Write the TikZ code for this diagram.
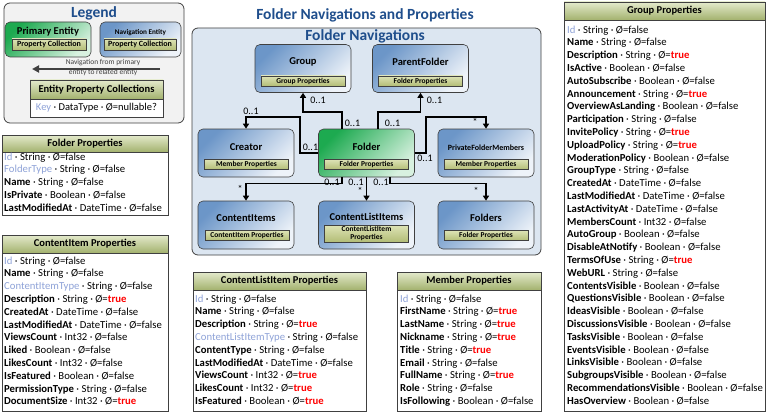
\documentclass[tikz,border=0pt]{standalone}
\usepackage{fontspec}
\setmainfont{Carlito}
\usepackage{xcolor}
\usetikzlibrary{arrows.meta}
\definecolor{titleblue}{HTML}{1F4E8C}
\definecolor{keyblue}{HTML}{8FA3D8}
\definecolor{nullred}{HTML}{FF0000}
\definecolor{navfill}{HTML}{DCE6F1}
\definecolor{legendfill}{HTML}{F2F2F2}
\definecolor{navtop}{HTML}{6C96C8}
\definecolor{navbottom}{HTML}{EEF3F9}
\definecolor{maintop}{HTML}{1DAA50}
\definecolor{mainbottom}{HTML}{D8F1E0}
\definecolor{colltop}{HTML}{DDE3B6}
\definecolor{collbottom}{HTML}{B3BD76}
\definecolor{headtop}{HTML}{E4EACC}
\definecolor{headbottom}{HTML}{A3B26E}
\definecolor{framegray}{HTML}{404040}

\newcommand{\propline}[3]{\textbf{#1} · #2 · Ø=#3}
\newcommand{\keyline}[3]{\textcolor{keyblue}{#1} · #2 · Ø=#3}
\newcommand{\yes}{\textcolor{nullred}{\textbf{true}}}

\begin{document}
\begin{tikzpicture}[x = 1pt, y = -1pt,
    entity/.style = {draw = framegray, line width = 0.6pt, rounded corners = 5pt, minimum width = 96pt, minimum height = 48pt, top color = navtop, bottom color = navbottom, shading angle = 45},
    mainentity/.style = {entity, top color = maintop, bottom color = mainbottom, shading angle = 45},
    entname/.style = {font = \bfseries\fontsize{10.5pt}{12pt}\selectfont, inner sep = 0pt},
    coll/.style = {draw = framegray, top color = colltop, bottom color = collbottom, line width = 0.6pt, minimum width = 84pt, minimum height = 10pt, inner sep = 0pt, font = \bfseries\fontsize{7.5pt}{8pt}\selectfont},
    tablehead/.style = {draw = framegray, line width = 0.8pt, top color = headtop, bottom color = headbottom, inner sep = 0pt, font = \bfseries\fontsize{10.5pt}{12pt}\selectfont},
    tablebody/.style = {draw = framegray, line width = 0.8pt, fill = white, inner sep = 0pt},
    rows/.style = {anchor = north west, align = left, inner sep = 0pt, font = \fontsize{10.7pt}{12.8pt}\selectfont},
    nav/.style = {-{Triangle[length = 5pt, width = 6pt]}, line width = 1.6pt},
    mult/.style = {inner sep = 0pt, font = \fontsize{10pt}{11pt}\selectfont},
    maintitle/.style = {font = \bfseries\fontsize{15.5pt}{17pt}\selectfont, text = titleblue, inner sep = 0pt}]

        \useasboundingbox (0, 0) rectangle (769, 412);

        % Legend
        \node [draw = framegray, line width = 0.8pt, fill = legendfill, rounded corners = 6pt, minimum width = 180pt, minimum height = 120pt] (legend) at (94, 63) {};
        \node [maintitle] (legendtitle) at (94, 13) {Legend};
        \node [mainentity, minimum width = 86pt, minimum height = 35pt] (primary) at (48, 39.5) {};
        \node [entname] (primaryname) at (48, 32) {Primary Entity};
        \node [coll, minimum width = 74pt, minimum height = 11pt, font = \bfseries\fontsize{8pt}{9pt}\selectfont] (primarycoll) at (49, 44.5) {Property Collection};
        \node [entity, minimum width = 81pt, minimum height = 35pt] (related) at (140.5, 39.5) {};
        \node [entname, font = \bfseries\fontsize{7.2pt}{8pt}\selectfont] (relatedname) at (140.5, 32.5) {Navigation Entity};
        \node [coll, minimum width = 72pt, minimum height = 11pt, font = \bfseries\fontsize{8pt}{9pt}\selectfont] (relatedcoll) at (140, 44.5) {Property Collection};
        \coordinate (navstart) at (160, 69);
        \coordinate (navend) at (32, 69);
        \draw [-{Triangle[length = 7pt, width = 7pt]}, line width = 1.8pt, draw = framegray] (navstart) -- (navend);
        \node [align = center, inner sep = 0pt, text = framegray, font = \fontsize{7.5pt}{10pt}\selectfont] (navnote) at (103, 68) {Navigation from primary\\entity to related entity};
        \node [tablebody, minimum width = 133pt, minimum height = 37pt] (keybody) at (96.5, 98.5) {};
        \node [tablehead, minimum width = 133pt, minimum height = 19pt] (keyhead) at (96.5, 89.5) {Entity Property Collections};
        \node [inner sep = 0pt, font = \fontsize{10.5pt}{12pt}\selectfont] (keytext) at (96.5, 108) {\textcolor{keyblue}{Key} · DataType · Ø=nullable?};

        % Navigations
        \node [maintitle] (maintitle) at (365, 15) {Folder Navigations and Properties};
        \node [draw = framegray, line width = 0.8pt, fill = navfill, rounded corners = 6pt, minimum width = 349pt, minimum height = 227pt] (panel) at (366.5, 141.5) {};
        \node [maintitle] (paneltitle) at (365, 36) {Folder Navigations};

        \node [entity] (group) at (303, 68.5) {};
        \node [entname] (groupname) at (303, 62) {Group};
        \node [coll] (groupcoll) at (303, 81) {Group Properties};

        \node [entity] (parent) at (420.5, 68.5) {};
        \node [entname] (parentname) at (420.5, 62) {ParentFolder};
        \node [coll] (parentcoll) at (420.5, 81) {Folder Properties};

        \node [entity] (creator) at (246, 153) {};
        \node [entname] (creatorname) at (246, 147) {Creator};
        \node [coll] (creatorcoll) at (246.5, 164.5) {Member Properties};

        \node [mainentity] (folder) at (366.5, 153) {};
        \node [entname] (foldername) at (366.5, 147) {Folder};
        \node [coll] (foldercoll) at (366.5, 164.5) {Folder Properties};

        \node [entity] (members) at (486, 153) {};
        \node [entname, font = \bfseries\fontsize{8pt}{9pt}\selectfont] (membersname) at (486, 148) {PrivateFolderMembers};
        \node [coll] (memberscoll) at (486, 164.5) {Member Properties};

        \node [entity] (citems) at (246, 225) {};
        \node [entname] (citemsname) at (246, 218) {ContentItems};
        \node [coll] (citemscoll) at (247, 235.5) {ContentItem Properties};

        \node [entity] (clitems) at (366.5, 225) {};
        \node [entname] (clitemsname) at (366.5, 217) {ContentListItems};
        \node [coll, minimum height = 17pt, align = center, font = \bfseries\fontsize{7.5pt}{7.5pt}\selectfont] (clitemscoll) at (366.5, 233.5) {ContentListItem\\Properties};

        \node [entity] (folders) at (486, 225) {};
        \node [entname] (foldersname) at (486, 218) {Folders};
        \node [coll] (folderscoll) at (486, 235.5) {Folder Properties};

        % Up and Sideways
        \draw [nav] ([xshift = -24.5pt]folder.north) -- ++(0, -17) -| (group.south);
        \draw [nav] ([xshift = 11.5pt]folder.north) -- ++(0, -17) -| (parent.south);
        \draw [nav] (folder.west) -- ++(-18, 0) -- ++(0, -36) -| (creator.north);
        \draw [nav] (folder.east) -- ++(11, 0) -- ++(0, -36) -| (members.north);

        % Down
        \draw [nav] ([xshift = -24.5pt]folder.south) -- ++(0, 6) -| (citems.north);
        \draw [nav] (folder.south) -- (clitems.north);
        \draw [nav] ([xshift = 23.5pt]folder.south) -- ++(0, 6) -| (folders.north);

        \node [mult] (m1) at (318, 100) {0..1};
        \node [mult] (m2) at (352.5, 123) {0..1};
        \node [mult] (m3) at (434.5, 100) {0..1};
        \node [mult] (m4) at (392.5, 123) {0..1};
        \node [mult] (m5) at (251, 111) {0..1};
        \node [mult] (m6) at (310.5, 147) {0..1};
        \node [mult] (m7) at (475, 122) {*};
        \node [mult] (m8) at (425, 158) {0..1};
        \node [mult] (m9) at (332, 182) {0..1};
        \node [mult] (m10) at (356, 182) {0..1};
        \node [mult] (m11) at (381, 182) {0..1};
        \node [mult] (m12) at (240, 189) {*};
        \node [mult] (m13) at (360, 191) {*};
        \node [mult] (m14) at (476, 191) {*};

        % Property Collections
        \node [tablebody, minimum width = 166pt, minimum height = 80pt] (folderprops) at (85, 175) {};
        \node [tablehead, minimum width = 166pt, minimum height = 17pt] (folderhead) at (85, 143.5) {Folder Properties};
        \node [rows] (folderrows) at (4, 152.5) {\keyline{Id}{String}{false}\\
            \keyline{FolderType}{String}{false}\\
            \propline{Name}{String}{false}\\
            \propline{IsPrivate}{Boolean}{false}\\
            \propline{LastModifiedAt}{DateTime}{false}};

        \node [tablebody, minimum width = 166pt, minimum height = 176pt] (citemprops) at (85, 323) {};
        \node [tablehead, minimum width = 166pt, minimum height = 18pt] (citemhead) at (85, 244) {ContentItem Properties};
        \node [rows] (citemrows) at (4, 256.5) {\keyline{Id}{String}{false}\\
            \propline{Name}{String}{false}\\
            \keyline{ContentItemType}{String}{false}\\
            \propline{Description}{String}{\yes}\\
            \propline{CreatedAt}{DateTime}{false}\\
            \propline{LastModifiedAt}{DateTime}{false}\\
            \propline{ViewsCount}{Int32}{false}\\
            \propline{Liked}{Boolean}{false}\\
            \propline{LikesCount}{Int32}{false}\\
            \propline{IsFeatured}{Boolean}{false}\\
            \propline{PermissionType}{String}{false}\\
            \propline{DocumentSize}{Int32}{\yes}};

        \node [tablebody, minimum width = 173pt, minimum height = 139pt] (clitemprops) at (279.5, 341.5) {};
        \node [tablehead, minimum width = 173pt, minimum height = 18pt] (clitemhead) at (279.5, 281) {ContentListItem Properties};
        \node [rows] (clitemrows) at (195, 294.5) {\keyline{Id}{String}{false}\\
            \propline{Name}{String}{false}\\
            \propline{Description}{String}{\yes}\\
            \keyline{ContentListItemType}{String}{false}\\
            \propline{ContentType}{String}{false}\\
            \propline{LastModifiedAt}{DateTime}{false}\\
            \propline{ViewsCount}{Int32}{\yes}\\
            \propline{LikesCount}{Int32}{\yes}\\
            \propline{IsFeatured}{Boolean}{\yes}};

        \node [tablebody, minimum width = 144pt, minimum height = 139pt] (memberprops) at (469, 341.5) {};
        \node [tablehead, minimum width = 144pt, minimum height = 18pt] (memberhead) at (469, 281) {Member Properties};
        \node [rows] (memberrows) at (400, 294.5) {\keyline{Id}{String}{false}\\
            \propline{FirstName}{String}{\yes}\\
            \propline{LastName}{String}{\yes}\\
            \propline{Nickname}{String}{\yes}\\
            \propline{Title}{String}{\yes}\\
            \propline{Email}{String}{false}\\
            \propline{FullName}{String}{\yes}\\
            \propline{Role}{String}{false}\\
            \propline{IsFollowing}{Boolean}{false}};

        \node [tablebody, minimum width = 201pt, minimum height = 409pt] (groupprops) at (664.5, 206.5) {};
        \node [tablehead, minimum width = 201pt, minimum height = 18pt] (grouphead) at (664.5, 11) {Group Properties};
        \node [rows] (grouprows) at (567, 25.5) {\keyline{Id}{String}{false}\\
            \propline{Name}{String}{false}\\
            \propline{Description}{String}{\yes}\\
            \propline{IsActive}{Boolean}{false}\\
            \propline{AutoSubscribe}{Boolean}{false}\\
            \propline{Announcement}{String}{\yes}\\
            \propline{OverviewAsLanding}{Boolean}{false}\\
            \propline{Participation}{String}{false}\\
            \propline{InvitePolicy}{String}{\yes}\\
            \propline{UploadPolicy}{String}{\yes}\\
            \propline{ModerationPolicy}{Boolean}{false}\\
            \propline{GroupType}{String}{false}\\
            \propline{CreatedAt}{DateTime}{false}\\
            \propline{LastModifiedAt}{DateTime}{false}\\
            \propline{LastActivityAt}{DateTime}{false}\\
            \propline{MembersCount}{Int32}{false}\\
            \propline{AutoGroup}{Boolean}{false}\\
            \propline{DisableAtNotify}{Boolean}{false}\\
            \propline{TermsOfUse}{String}{\yes}\\
            \propline{WebURL}{String}{false}\\
            \propline{ContentsVisible}{Boolean}{false}\\
            \propline{QuestionsVisible}{Boolean}{false}\\
            \propline{IdeasVisible}{Boolean}{false}\\
            \propline{DiscussionsVisible}{Boolean}{false}\\
            \propline{TasksVisible}{Boolean}{false}\\
            \propline{EventsVisible}{Boolean}{false}\\
            \propline{LinksVisible}{Boolean}{false}\\
            \propline{SubgroupsVisible}{Boolean}{false}\\
            \propline{RecommendationsVisible}{Boolean}{false}\\
            \propline{HasOverview}{Boolean}{false}};

    \end{tikzpicture}
\end{document}
